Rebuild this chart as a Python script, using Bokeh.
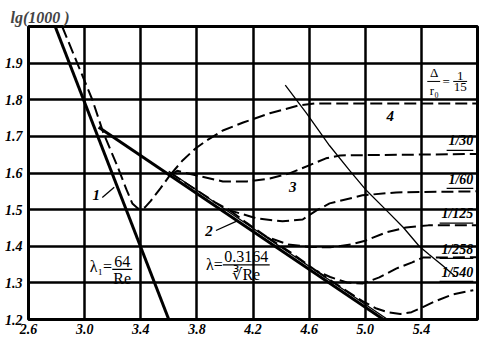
from bokeh.plotting import figure
from bokeh.models import FixedTicker, CustomJSTickFormatter
from bokeh.core.properties import value
from bokeh.embed import file_html
from bokeh.resources import INLINE

# ---- data ----
x_ticks = [2.6, 3.0, 3.4, 3.8, 4.2, 4.6, 5.0, 5.4]
y_ticks = [1.2, 1.3, 1.4, 1.5, 1.6, 1.7, 1.8, 1.9]
grid_x = [3.0, 3.4, 3.8, 4.2, 4.6, 5.0, 5.4]
grid_y = [1.3, 1.4, 1.5, 1.6, 1.7, 1.8, 1.9]

lam_x = [2.79, 3.60]
lam_y = [2.0, 1.2]
blas_x = [3.10, 5.13]
blas_y = [1.725, 1.2]
prandtl_x = [3.60, 5.16]
prandtl_y = [1.605, 1.2]

common_x = [2.84, 3.055, 3.133, 3.232, 3.30, 3.34, 3.38, 3.43, 3.47, 3.54, 3.61]
common_y = [2.0, 1.80, 1.71, 1.62, 1.553, 1.517, 1.503, 1.506, 1.523, 1.558, 1.595]

r15_x = [3.61, 3.70, 3.79, 3.87, 3.985, 4.13, 4.32, 4.53, 4.64, 5.80]
r15_y = [1.595, 1.635, 1.667, 1.689, 1.716, 1.738, 1.763, 1.785, 1.790, 1.790]

r30_x = [3.61, 3.66, 3.72, 3.80, 3.985, 4.156, 4.32, 4.46, 4.60, 4.72, 4.82, 5.80]
r30_y = [1.595, 1.606, 1.600, 1.593, 1.577, 1.577, 1.585, 1.599, 1.621, 1.640, 1.648, 1.652]

r60_x = [3.61, 3.80, 3.93, 4.035, 4.227, 4.41, 4.554, 4.653, 4.746, 4.98, 5.22, 5.80]
r60_y = [1.600, 1.553, 1.520, 1.498, 1.476, 1.468, 1.473, 1.498, 1.517, 1.539, 1.547, 1.550]

r125_x = [4.035, 4.15, 4.30, 4.45, 4.60, 4.75, 4.90, 5.00, 5.15, 5.29, 5.45, 5.80]
r125_y = [1.498, 1.465, 1.425, 1.405, 1.398, 1.397, 1.405, 1.415, 1.438, 1.451, 1.457, 1.457]

r258_x = [4.30, 4.48, 4.65, 4.75, 4.87, 4.98, 5.10, 5.22, 5.335, 5.41, 5.80]
r258_y = [1.425, 1.380, 1.333, 1.316, 1.301, 1.298, 1.315, 1.339, 1.356, 1.369, 1.370]

r540_x = [4.65, 4.82, 4.98, 5.08, 5.16, 5.25, 5.33, 5.40, 5.50, 5.62, 5.77]
r540_y = [1.333, 1.290, 1.250, 1.230, 1.220, 1.215, 1.220, 1.232, 1.250, 1.268, 1.280]

b4_x = [4.43, 4.582, 4.745, 4.888, 5.009, 5.151, 5.27, 5.385, 5.457, 5.549, 5.64]
b4_y = [1.84, 1.763, 1.675, 1.607, 1.552, 1.498, 1.452, 1.40, 1.377, 1.348, 1.318]

ratio_labels = ["1/30", "1/60", "1/125", "1/258", "1/540"]
ratio_label_y = [1.667, 1.563, 1.468, 1.372, 1.309]

curve_labels = ["1", "2", "3", "4"]
curve_label_x = [3.083, 3.886, 4.483, 5.179]
curve_label_y = [1.539, 1.443, 1.561, 1.755]

SERIF = "Liberation Serif"

p = figure(width=483, height=339, x_range=(2.6, 5.8), y_range=(1.2, 2.0),
           output_backend="svg", toolbar_location=None,
           min_border_left=28, min_border_right=6, min_border_top=26,
           min_border_bottom=20)

p.title.text = "lg(1000  )"
p.title.text_font = SERIF
p.title.text_font_style = "bold italic"
p.title.text_font_size = "16px"
p.title.align = "left"
p.title.offset = -18
p.title.standoff = 2

fmt = CustomJSTickFormatter(code="return tick.toFixed(1);")
for ax, ticks in ((p.xaxis, x_ticks), (p.yaxis, y_ticks)):
    ax.ticker = FixedTicker(ticks=ticks)
    ax.formatter = fmt
    ax.axis_line_color = None
    ax.major_tick_line_color = None
    ax.minor_tick_line_color = None
    ax.major_tick_in = 0
    ax.major_tick_out = 0
    ax.major_label_text_font = SERIF
    ax.major_label_text_font_style = "bold italic"
    ax.major_label_text_font_size = "14px"
    ax.major_label_text_color = "black"
p.xaxis.major_label_standoff = 4
p.yaxis.major_label_standoff = 6

p.xgrid.ticker = FixedTicker(ticks=grid_x)
p.ygrid.ticker = FixedTicker(ticks=grid_y)
for g in (p.xgrid, p.ygrid):
    g.grid_line_color = "black"
    g.grid_line_width = 2.5
    g.grid_line_alpha = 1.0

p.outline_line_color = "black"
p.outline_line_width = 3
p.outline_line_alpha = 1.0
p.background_fill_color = "white"
p.border_fill_color = "white"

# solid lines
p.line(lam_x, lam_y, line_color="black", line_width=3)
p.line(blas_x, blas_y, line_color="black", line_width=3)
p.line(prandtl_x, prandtl_y, line_color="black", line_width=1.3)
p.line(b4_x, b4_y, line_color="black", line_width=1.3)

# dashed roughness curves
dash = "12 5"
for xs, ys in ((common_x, common_y), (r15_x, r15_y), (r30_x, r30_y),
               (r60_x, r60_y), (r125_x, r125_y), (r258_x, r258_y),
               (r540_x, r540_y)):
    p.line(xs, ys, line_color="black", line_width=2, line_dash=dash)

# ratio labels (underlined) on the right
p.text(x=[5.77] * len(ratio_labels), y=ratio_label_y, text=ratio_labels,
       text_font=value(SERIF), text_font_style="bold italic",
       text_font_size="14px", text_align="right", text_baseline="bottom",
       text_color="black")
ul_len = [0.19, 0.19, 0.24, 0.24, 0.24]
p.segment(x0=[5.77 - l for l in ul_len], y0=[v - 0.005 for v in ratio_label_y],
          x1=[5.77] * len(ratio_labels), y1=[v - 0.005 for v in ratio_label_y],
          line_color="black", line_width=1.3)

# curve number labels
p.text(x=curve_label_x, y=curve_label_y, text=curve_labels,
       text_font=value(SERIF), text_font_style="bold italic",
       text_font_size="15px", text_align="center", text_baseline="middle",
       text_color="black")
# leader lines for 1 and 2
p.segment(x0=[3.126, 3.936], y0=[1.533, 1.443], x1=[3.211, 4.092], y1=[1.561, 1.470],
          line_color="black", line_width=1.3)

# formula lambda_1 = 64 / Re
p.text(x=[3.196], y=[1.345], text=["λ₁="], text_font=value(SERIF),
       text_font_size="16px", text_align="right", text_baseline="middle")
p.text(x=[3.268], y=[1.343], text=["64"], text_font=value(SERIF),
       text_font_size="16px", text_align="center", text_baseline="bottom")
p.segment(x0=[3.197], y0=[1.337], x1=[3.339], y1=[1.337], line_color="black", line_width=1.2)
p.text(x=[3.268], y=[1.334], text=["Re"], text_font=value(SERIF),
       text_font_size="16px", text_align="center", text_baseline="top")

# formula lambda = 0.3164 / cbrt(Re)
p.text(x=[3.985], y=[1.350], text=["λ="], text_font=value(SERIF),
       text_font_size="16px", text_align="right", text_baseline="middle")
p.text(x=[4.152], y=[1.356], text=["0.3164"], text_font=value(SERIF),
       text_font_size="16px", text_align="center", text_baseline="bottom")
p.segment(x0=[3.985], y0=[1.349], x1=[4.319], y1=[1.349], line_color="black", line_width=1.2)
p.text(x=[4.152], y=[1.346], text=["∛Re"], text_font=value(SERIF),
       text_font_size="16px", text_align="center", text_baseline="top")

# Delta / r0 = 1 / 15
p.text(x=[5.492], y=[1.853], text=["Δ"], text_font=value(SERIF),
       text_font_size="13px", text_align="center", text_baseline="bottom")
p.segment(x0=[5.442], y0=[1.850], x1=[5.534], y1=[1.850], line_color="black", line_width=1)
p.text(x=[5.492], y=[1.847], text=["r₀"], text_font=value(SERIF),
       text_font_size="13px", text_align="center", text_baseline="top")
p.text(x=[5.577], y=[1.850], text=["="], text_font=value(SERIF),
       text_font_size="13px", text_align="center", text_baseline="middle")
p.text(x=[5.677], y=[1.853], text=["1"], text_font=value(SERIF),
       text_font_size="13px", text_align="center", text_baseline="bottom")
p.segment(x0=[5.627], y0=[1.850], x1=[5.726], y1=[1.850], line_color="black", line_width=1)
p.text(x=[5.677], y=[1.847], text=["15"], text_font=value(SERIF),
       text_font_size="13px", text_align="center", text_baseline="top")

open("out.html", "w").write(file_html(p, INLINE))
